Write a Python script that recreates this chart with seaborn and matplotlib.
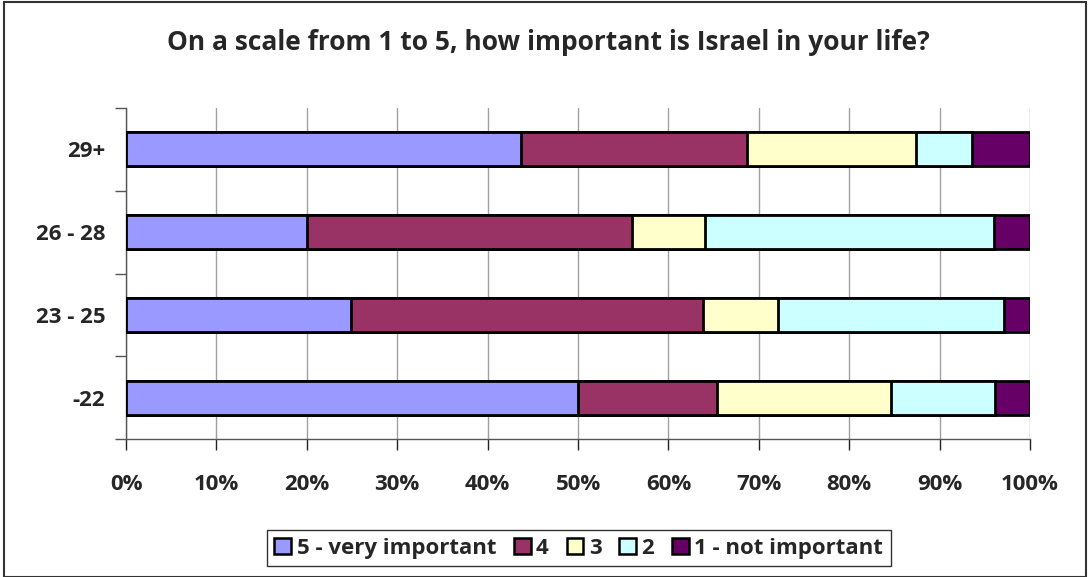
import numpy as np
import pandas as pd
import matplotlib
matplotlib.use("Agg")
import matplotlib.pyplot as plt
from matplotlib.patches import Patch, Rectangle
import seaborn as sns

# ------------------------------------------------------------
# data (share of answers, %)
# ------------------------------------------------------------
age_groups = ["29+", "26 - 28", "23 - 25", "-22"]
levels = ["5 - very important", "4", "3", "2", "1 - not important"]
very_important = [43.7, 20.0, 24.9, 50.0]
four = [25.0, 36.0, 38.9, 15.4]
three = [18.7, 8.0, 8.3, 19.2]
two = [6.2, 32.0, 25.0, 11.5]
not_important = [6.4, 4.0, 2.9, 3.9]
colors = ["#9999FF", "#993366", "#FFFFCC", "#CCFFFF", "#660066"]

df = pd.DataFrame({"group": age_groups,
                   levels[0]: very_important, levels[1]: four,
                   levels[2]: three, levels[3]: two,
                   levels[4]: not_important})
cum = df[levels].cumsum(axis=1)
cum["group"] = df["group"]

# ------------------------------------------------------------
# plot
# ------------------------------------------------------------
sns.set_style("white")
plt.rcParams["font.family"] = ["Open Sans", "DejaVu Sans"]
plt.rcParams["font.weight"] = "bold"

fig = plt.figure(figsize=(10.9, 5.77), dpi=100)
ax = fig.add_axes([0.1156, 0.239, 0.8294, 0.5738])

# stacked bars: draw cumulative totals from the widest one down
for lvl, col in reversed(list(zip(levels, colors))):
    sns.barplot(data=cum, x=lvl, y="group", order=age_groups, orient="h",
                color=col, edgecolor="black", linewidth=2, width=0.41,
                saturation=1, ax=ax, zorder=3)

ax.set_xlim(0, 100)
ax.set_ylim(3.5, -0.5)
ax.set_xticks(np.arange(0, 101, 10))
ax.set_xticklabels([f"{v}%" for v in range(0, 101, 10)], fontsize=16,
                   fontweight="bold")
ax.set_yticks(range(len(age_groups)))
ax.set_yticklabels(age_groups, fontsize=16, fontweight="bold")
ax.set_yticks(np.arange(-0.5, 4, 1), minor=True)
ax.tick_params(axis="y", which="major", left=True, length=0, pad=15)
ax.tick_params(axis="y", which="minor", left=True, length=8, direction="out",
               color="#555555", width=1)
ax.tick_params(axis="x", bottom=True, length=8, direction="out",
               color="#222222", width=1, pad=17)
ax.set_xlabel("")
ax.set_ylabel("")
ax.xaxis.grid(True, color="#A0A0A0", linewidth=1, zorder=0)
ax.set_axisbelow(True)
for s in ["top", "right"]:
    ax.spines[s].set_visible(False)
for s in ["left", "bottom"]:
    ax.spines[s].set_color("#555555")
    ax.spines[s].set_linewidth(1)

fig.suptitle("On a scale from 1 to 5, how important is Israel in your life?",
             x=0.503, y=0.95, fontsize=19, fontweight="bold")

handles = [Patch(facecolor=c, edgecolor="black", linewidth=1.8, label=l)
           for l, c in zip(levels, colors)]
leg = fig.legend(handles=handles, loc="center", bbox_to_anchor=(0.531, 0.05),
                 ncol=5, frameon=True, fancybox=False, fontsize=16,
                 handlelength=0.75, handleheight=0.75, handletextpad=0.25,
                 columnspacing=0.8, borderpad=0.35)
leg.get_frame().set_edgecolor("black")
leg.get_frame().set_linewidth(1)
for t in leg.get_texts():
    t.set_fontweight("bold")

fig.patches.append(Rectangle((0.004, 0.0), 0.992, 0.996, transform=fig.transFigure,
                             fill=False, edgecolor="#333333", linewidth=1.5))

fig.savefig("out.png", dpi=100)
